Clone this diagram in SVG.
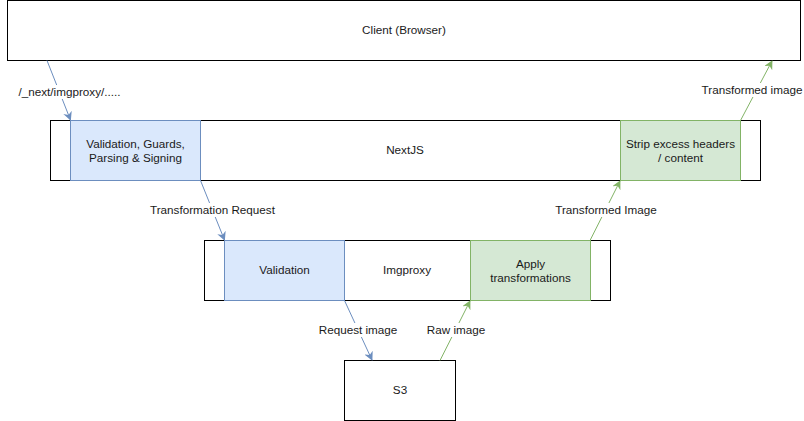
<svg xmlns="http://www.w3.org/2000/svg" width="804" height="421" viewBox="0 0 804 421">
<defs>
<style>
.box{fill:#ffffff;stroke:#000000;stroke-width:1}
.blue{fill:#dae8fc;stroke:#6c8ebf;stroke-width:1}
.green{fill:#d5e8d4;stroke:#82b366;stroke-width:1}
text{font-family:"Liberation Sans",Arial,sans-serif;font-size:11.7px;fill:#1a1a1a;text-anchor:middle}
.lb{fill:#ffffff;stroke:none}
.cb{stroke:#6c8ebf;stroke-width:1;fill:none;marker-end:url(#ab)}
.cg{stroke:#82b366;stroke-width:1;fill:none;marker-end:url(#ag)}
</style>
<marker id="ab" viewBox="0 0 10 10" refX="9" refY="5" markerWidth="9" markerHeight="9" markerUnits="userSpaceOnUse" orient="auto">
<path d="M0,0 L10,5 L0,10 L3,5 Z" fill="#6c8ebf"/>
</marker>
<marker id="ag" viewBox="0 0 10 10" refX="9" refY="5" markerWidth="9" markerHeight="9" markerUnits="userSpaceOnUse" orient="auto">
<path d="M0,0 L10,5 L0,10 L3,5 Z" fill="#82b366"/>
</marker>
</defs>
<rect width="804" height="421" fill="#ffffff"/>
<g id="client">
<rect class="box" x="7.5" y="0.5" width="793" height="60"/>
<text x="404" y="34">Client (Browser)</text>
</g>
<g id="nextjs">
<rect class="box" x="50.5" y="120.5" width="710" height="60"/>
<text x="405" y="154">NextJS</text>
</g>
<g id="nextjs-validation">
<rect class="blue" x="70.5" y="120.5" width="130" height="60"/>
<text x="135.5" y="148">Validation, Guards,</text>
<text x="135.5" y="162">Parsing &amp; Signing</text>
</g>
<g id="nextjs-strip">
<rect class="green" x="620.5" y="120.5" width="120" height="60"/>
<text x="680.5" y="148">Strip excess headers</text>
<text x="680.5" y="162">/ content</text>
</g>
<g id="imgproxy">
<rect class="box" x="204.5" y="240.5" width="406" height="60"/>
<text x="407" y="274">Imgproxy</text>
</g>
<g id="imgproxy-validation">
<rect class="blue" x="224.5" y="240.5" width="120" height="60"/>
<text x="284.5" y="274">Validation</text>
</g>
<g id="imgproxy-apply">
<rect class="green" x="470.5" y="240.5" width="120" height="60"/>
<text x="530.5" y="268">Apply</text>
<text x="530.5" y="282">transformations</text>
</g>
<g id="s3">
<rect class="box" x="344.5" y="360.5" width="111" height="60"/>
<text x="400" y="394">S3</text>
</g>
<g id="connectors">
<path class="cb" d="M47,60.5 L70.5,120"/>
<path class="cb" d="M200.5,180.5 L224.5,240"/>
<path class="cb" d="M344.5,300.5 L372,360"/>
<path class="cg" d="M440,360.5 L470,301"/>
<path class="cg" d="M590,240.5 L620,181"/>
<path class="cg" d="M740.5,120.5 L772,61"/>
<rect class="lb" x="19" y="85" width="101" height="14"/>
<text x="69.5" y="96">/_next/imgproxy/.....</text>
<rect class="lb" x="150" y="203" width="125" height="14"/>
<text x="212.5" y="214">Transformation Request</text>
<rect class="lb" x="319" y="323" width="78" height="14"/>
<text x="358" y="334">Request image</text>
<rect class="lb" x="426" y="323" width="60" height="14"/>
<text x="456" y="334">Raw image</text>
<rect class="lb" x="554" y="203" width="104" height="14"/>
<text x="606" y="214">Transformed Image</text>
<rect class="lb" x="701" y="83" width="102" height="14"/>
<text x="752" y="94">Transformed image</text>
</g>
</svg>
